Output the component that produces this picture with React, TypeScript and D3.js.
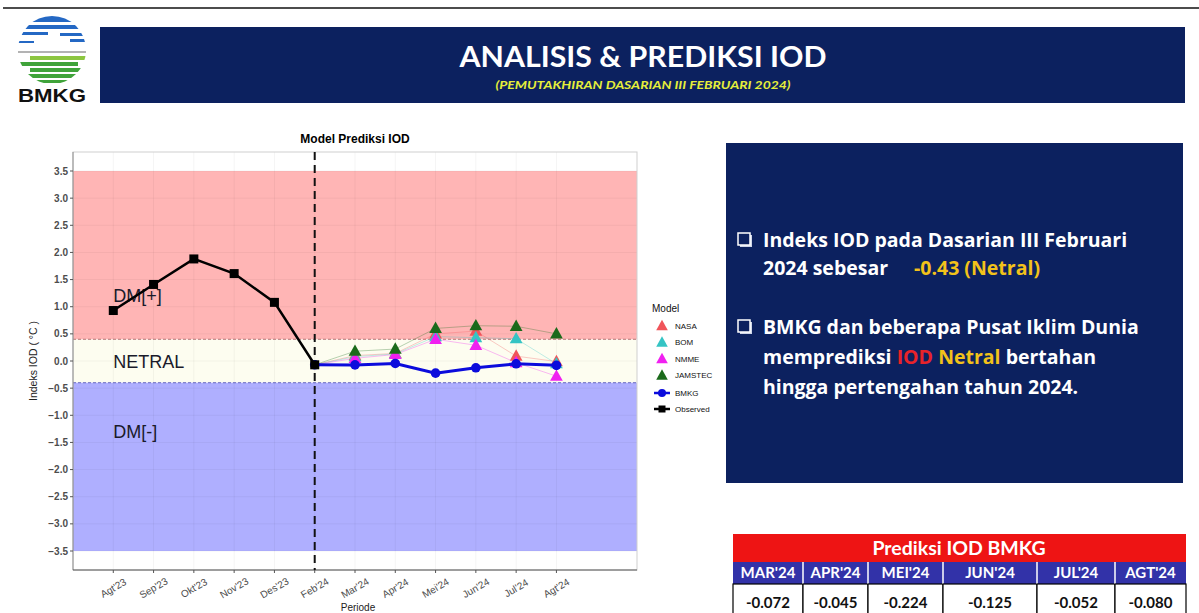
import React from "react";
import * as d3 from "d3";

// chart values
const periods = ["Agt'23", "Sep'23", "Okt'23", "Nov'23", "Des'23", "Feb'24", "Mar'24", "Apr'24", "Mei'24", "Jun'24", "Jul'24", "Agt'24"];
const observed = [0.93, 1.41, 1.88, 1.61, 1.08, -0.07];
// forecasts start at Feb'24 (index 5)
const bmkg = [-0.07, -0.072, -0.045, -0.224, -0.125, -0.052, -0.08];
const nasa = [-0.07, 0.1, 0.14, 0.5, 0.55, 0.09, -0.01];
const bom = [-0.07, 0.08, 0.13, 0.45, 0.43, 0.41, -0.05];
const nmme = [-0.07, 0.05, 0.12, 0.4, 0.29, -0.03, -0.28];
const jamstec = [-0.07, 0.18, 0.22, 0.6, 0.65, 0.64, 0.5];
const yTicks = [3.5, 3, 2.5, 2, 1.5, 1, 0.5, 0, -0.5, -1, -1.5, -2, -2.5, -3, -3.5];

const tableMonths = ["MAR'24", "APR'24", "MEI'24", "JUN'24", "JUL'24", "AGT'24"];
const tableValues = ["-0.072", "-0.045", "-0.224", "-0.125", "-0.052", "-0.080"];
const tableCols = [733, 803, 868, 943, 1037, 1115, 1186];

const models = [
  { name: "NASA", vals: nasa, color: "#f0545a" },
  { name: "BOM", vals: bom, color: "#35c4c4" },
  { name: "NMME", vals: nmme, color: "#f020f0" },
  { name: "JAMSTEC", vals: jamstec, color: "#1b6a1b" },
];

const NAVY = "#0c215f";
const SANS = "'Liberation Sans', Arial, sans-serif";
const CAL = "Lato, 'Open Sans', sans-serif";
const OPEN = "'Open Sans', 'Noto Sans', sans-serif";

const tri = (cx: number, cy: number, s: number) =>
  `M${cx},${cy - s * 0.62}L${cx + s * 0.58},${cy + s * 0.42}L${cx - s * 0.58},${cy + s * 0.42}Z`;

const Logo = () => {
  const cx = 52, cy = 50, r = 34;
  const blue = [
    { y: 16, h: 6, x0: 30, x1: 76 },
    { y: 25, h: 4, x0: 18, x1: 86 },
    { y: 32, h: 3, x0: 18, x1: 48 },
    { y: 33, h: 3, x0: 60, x1: 86 },
    { y: 39, h: 3, x0: 70, x1: 86 },
    { y: 41, h: 2, x0: 18, x1: 34 },
  ];
  const green = [
    { y: 56, h: 4, c: "#8cc640" },
    { y: 62, h: 4, c: "#3fa33a" },
    { y: 68, h: 4, c: "#3fa33a" },
    { y: 74, h: 4, c: "#3fa33a" },
    { y: 80, h: 3, c: "#3fa33a" },
  ];
  return (
    <g>
      <clipPath id="logoclip">
        <circle cx={cx} cy={cy} r={r} />
      </clipPath>
      <g clipPath="url(#logoclip)">
        {blue.map((b, i) => (
          <rect key={i} x={b.x0} y={b.y} width={b.x1 - b.x0} height={b.h} fill="#2468c4" />
        ))}
        {green.map((g, i) => (
          <rect key={i} x={i % 2 ? 18 : 30} y={g.y} width={i % 2 ? 60 : 56} height={g.h} fill={g.c} />
        ))}
      </g>
      <line x1={18} x2={86} y1={52} y2={52} stroke="#9a9a9a" strokeWidth={1.5} />
      <text x={18} y={102} fontFamily={SANS} fontWeight="bold" fontSize={19} fill="#111" textLength={68} lengthAdjust="spacingAndGlyphs">
        BMKG
      </text>
    </g>
  );
};

const Bullet = ({ x, y }: { x: number; y: number }) => (
  <g>
    <rect x={x + 2} y={y + 2} width={12} height={12} fill="#cfd6e8" />
    <rect x={x} y={y} width={12} height={12} fill={NAVY} stroke="#ffffff" strokeWidth={1.5} />
  </g>
);

const App = () => {
  const left = 73, right = 637, top = 152, bottom = 570;
  const x = d3.scaleLinear().domain([-1, 13]).range([left, right]);
  const y = d3.scaleLinear().domain([-3.85, 3.85]).range([bottom, top]);

  const line = d3
    .line<number>()
    .x((_, i) => x(i))
    .y((d) => y(d));
  const fLine = d3
    .line<number>()
    .x((_, i) => x(i + 5))
    .y((d) => y(d));

  return (
    <div style={{ position: "absolute", left: 0, top: 0 }}>
      <svg width={1199} height={613} style={{ display: "block", background: "#fff" }}>
        <line x1={3} x2={1199} y1={8} y2={8} stroke="#111" strokeWidth={1.5} />
        <Logo />

        {/* header */}
        <rect x={100} y={27} width={1085} height={76} fill={NAVY} />
        <text x={643} y={67} textAnchor="middle" fontFamily={CAL} fontWeight="bold" fontSize={29} fill="#fff" textLength={367} lengthAdjust="spacingAndGlyphs">
          ANALISIS &amp; PREDIKSI IOD
        </text>
        <text x={643} y={89} textAnchor="middle" fontFamily={CAL} fontWeight="bold" fontStyle="italic" fontSize={12} fill="#e6ee3a" textLength={295} lengthAdjust="spacingAndGlyphs">
          (PEMUTAKHIRAN DASARIAN III FEBRUARI 2024)
        </text>

        {/* chart */}
        <text x={355} y={143} textAnchor="middle" fontFamily={SANS} fontWeight="bold" fontSize={12} fill="#000">
          Model Prediksi IOD
        </text>
        <rect x={left} y={top} width={right - left} height={bottom - top} fill="#fff" />
        <rect x={left} y={y(0.4)} width={right - left} height={y(-0.4) - y(0.4)} fill="#fdfdf0" />
        <rect x={left} y={y(3.5)} width={right - left} height={y(0.4) - y(3.5)} fill="#ffb5b5" />
        <rect x={left} y={y(-0.4)} width={right - left} height={y(-3.5) - y(-0.4)} fill="#afafff" />
        <g stroke="#000" strokeOpacity={0.06} strokeWidth={0.8}>
          {yTicks.map((t) => (
            <line key={t} x1={left} x2={right} y1={y(t)} y2={y(t)} />
          ))}
          {periods.map((p, i) => (
            <line key={p} x1={x(i)} x2={x(i)} y1={top} y2={bottom} />
          ))}
        </g>
        <line x1={left} x2={right} y1={y(0.4)} y2={y(0.4)} stroke="#a06060" strokeWidth={0.8} strokeDasharray="3,2" />
        <line x1={left} x2={right} y1={y(-0.4)} y2={y(-0.4)} stroke="#4a4ab0" strokeWidth={0.8} strokeDasharray="3,2" />
        <rect x={left} y={top} width={right - left} height={bottom - top} fill="none" stroke="#cfcfcf" strokeWidth={1} />
        <line x1={left} x2={right} y1={bottom} y2={bottom} stroke="#555" strokeWidth={1} />
        <line x1={left} x2={left} y1={top} y2={bottom} stroke="#555" strokeWidth={0.6} />

        <g fontFamily={SANS} fontSize={18} fill="#1a1a2a">
          <text x={x(0)} y={y(1.05) - 2}>DM[+]</text>
          <text x={x(0)} y={y(-0.13)}>NETRAL</text>
          <text x={x(0)} y={y(-1.42)}>DM[-]</text>
        </g>

        {/* y axis */}
        {yTicks.map((t) => (
          <g key={t}>
            <line x1={left - 3} x2={left} y1={y(t)} y2={y(t)} stroke="#555" />
            <text x={left - 5} y={y(t)} dy="0.35em" textAnchor="end" fontFamily={SANS} fontWeight="bold" fontSize={10} fill="#4d4d4d">
              {d3.format(".1f")(t)}
            </text>
          </g>
        ))}
        <text transform={`translate(37,${y(0)}) rotate(-90)`} textAnchor="middle" fontFamily={SANS} fontSize={10.5} fill="#222">
          Indeks IOD ( °C )
        </text>

        {/* x axis */}
        {periods.map((p, i) => (
          <g key={p}>
            <line x1={x(i)} x2={x(i)} y1={bottom} y2={bottom + 3} stroke="#555" />
            <text transform={`translate(${x(i)},${bottom + 18}) rotate(-30)`} textAnchor="middle" dy="0.35em" fontFamily={SANS} fontSize={10} fill="#4d4d4d">
              {p}
            </text>
          </g>
        ))}
        <text x={358} y={611} textAnchor="middle" fontFamily={SANS} fontSize={10} fill="#222">
          Periode
        </text>

        {/* Feb'24 marker */}
        <line x1={x(5)} x2={x(5)} y1={top} y2={bottom} stroke="#111" strokeWidth={2} strokeDasharray="8,5" />

        {/* model forecasts */}
        {models.map((m) => (
          <path key={m.name} d={fLine(m.vals) || ""} fill="none" stroke={m.color} strokeOpacity={0.35} strokeWidth={0.9} />
        ))}
        {models.map((m) =>
          m.vals.slice(1).map((v, i) => <path key={m.name + i} d={tri(x(i + 6), y(v), 11)} fill={m.color} />)
        )}

        {/* BMKG */}
        <path d={fLine(bmkg) || ""} fill="none" stroke="#0b0bdc" strokeWidth={3} />
        {bmkg.map((v, i) => (
          <circle key={i} cx={x(i + 5)} cy={y(v)} r={4.8} fill="#0b0bdc" />
        ))}

        {/* observed */}
        <path d={line(observed) || ""} fill="none" stroke="#000" strokeWidth={2.5} />
        {observed.map((v, i) => (
          <rect key={i} x={x(i) - 4.5} y={y(v) - 4.5} width={9} height={9} fill="#000" />
        ))}

        {/* legend */}
        <g fontFamily={SANS} fill="#111">
          <text x={652} y={312} fontSize={10}>Model</text>
          {models.map((m, i) => (
            <g key={m.name}>
              <path d={tri(662, 326 + i * 16.5, 10)} fill={m.color} />
              <text x={675} y={326 + i * 16.5} dy="0.35em" fontSize={8}>{m.name}</text>
            </g>
          ))}
          <line x1={654} x2={670} y1={393} y2={393} stroke="#0b0bdc" strokeWidth={2.5} />
          <circle cx={662} cy={393} r={4} fill="#0b0bdc" />
          <text x={675} y={393} dy="0.35em" fontSize={8}>BMKG</text>
          <line x1={654} x2={670} y1={409} y2={409} stroke="#000" strokeWidth={2.5} />
          <rect x={658.5} y={405.5} width={7} height={7} fill="#000" />
          <text x={675} y={409} dy="0.35em" fontSize={8}>Observed</text>
        </g>

        {/* info box */}
        <rect x={726} y={143} width={457} height={340} fill={NAVY} />
        <g fontFamily={OPEN} fontWeight="bold" fontSize={19.5} fill="#fff">
          <Bullet x={738} y={233} />
          <text x={763} y={247}>Indeks IOD pada Dasarian III Februari</text>
          <text x={763} y={275}>
            2024 sebesar
            <tspan x={914} fill="#f2c21a">-0.43 (Netral)</tspan>
          </text>
          <Bullet x={738} y={320} />
          <text x={763} y={334}>BMKG dan beberapa Pusat Iklim Dunia</text>
          <text x={763} y={364}>
            memprediksi <tspan fill="#e8232a">IOD</tspan> <tspan fill="#f2c21a">Netral</tspan> bertahan
          </text>
          <text x={763} y={394}>hingga pertengahan tahun 2024.</text>
        </g>

        {/* table */}
        <rect x={733} y={534} width={453} height={28} fill="#ee1414" />
        <text x={959} y={548} dy="0.35em" textAnchor="middle" fontFamily={CAL} fontWeight="bold" fontSize={19.5} fill="#fff">
          Prediksi IOD BMKG
        </text>
        <rect x={733} y={562} width={453} height={22} fill="#3232a8" />
        {tableMonths.map((m, i) => {
          const cx = (tableCols[i] + tableCols[i + 1]) / 2;
          return (
            <g key={m}>
              {i > 0 && <line x1={tableCols[i]} x2={tableCols[i]} y1={562} y2={584} stroke="#fff" strokeWidth={1.5} />}
              <text x={cx} y={573} dy="0.35em" textAnchor="middle" fontFamily={CAL} fontWeight="bold" fontSize={15} fill="#fff">
                {m}
              </text>
              <rect x={tableCols[i]} y={584} width={tableCols[i + 1] - tableCols[i]} height={32} fill="#fff" stroke="#000" strokeWidth={1.2} />
              <text x={cx} y={603} dy="0.35em" textAnchor="middle" fontFamily={CAL} fontWeight="bold" fontSize={15} fill="#111">
                {tableValues[i]}
              </text>
            </g>
          );
        })}
      </svg>
    </div>
  );
};

export default App;
